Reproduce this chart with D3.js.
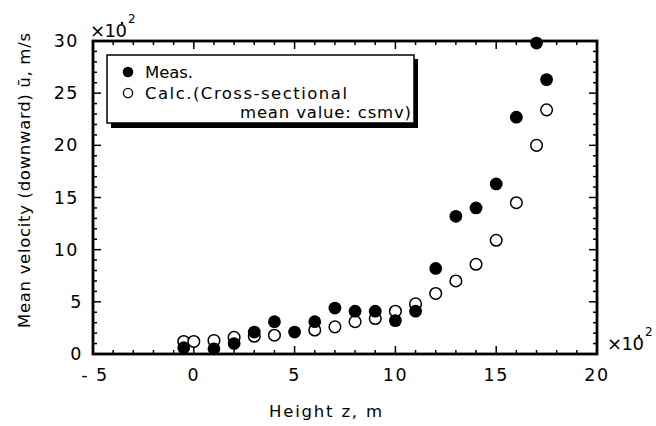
<!DOCTYPE html>
<html>
<head>
<meta charset="utf-8">
<script src="https://cdn.jsdelivr.net/npm/d3@7"></script>
<style>
  html, body { margin: 0; padding: 0; background: #fff; }
  svg { display: block; font-family: "DejaVu Sans", "Noto Sans", sans-serif; }
</style>
</head>
<body>
<svg id="chart" width="656" height="426"></svg>
<script>
// Height z (×10^-2 m) and mean downward velocity (×10^-2 m/s)
const measZ = [-0.5, 1, 2, 3, 4, 5, 6, 7, 8, 9, 10, 11, 12, 13, 14, 15, 16, 17, 17.5];
const measU = [0.6, 0.5, 1.0, 2.1, 3.1, 2.1, 3.1, 4.4, 4.1, 4.1, 3.2, 4.1, 8.2, 13.2, 14.0, 16.3, 22.7, 29.8, 26.3];
const calcZ = [-0.5, 0, 1, 2, 3, 4, 6, 7, 8, 9, 10, 11, 12, 13, 14, 15, 16, 17, 17.5];
const calcU = [1.2, 1.2, 1.3, 1.6, 1.7, 1.8, 2.3, 2.6, 3.1, 3.4, 4.1, 4.8, 5.8, 7.0, 8.6, 10.9, 14.5, 20.0, 23.4];
const xTicks = [-5, 0, 5, 10, 15, 20];
const yTicks = [0, 5, 10, 15, 20, 25, 30];
const legendLabels = ["Meas.", "Calc.(Cross-sectional", "mean value: csmv)"];

const svg = d3.select("#chart");
const L = 93, R = 597, T = 41, B = 354;

const x = d3.scaleLinear().domain([-5, 20]).range([L, R]);
const y = d3.scaleLinear().domain([0, 30]).range([B, T]);

const minorX = d3.range(-5, 21, 1);
const minorY = d3.range(0, 31, 1);

// Inward ticks on all four sides: long at labelled values, short in between
const tickLen = v => (v % 5 === 0 ? 8 : 4);
const g = svg.append("g").attr("stroke", "#000").attr("stroke-width", 1.5);
minorX.forEach(v => {
  g.append("line").attr("x1", x(v)).attr("x2", x(v)).attr("y1", B).attr("y2", B - tickLen(v));
  g.append("line").attr("x1", x(v)).attr("x2", x(v)).attr("y1", T).attr("y2", T + tickLen(v));
});
minorY.forEach(v => {
  g.append("line").attr("y1", y(v)).attr("y2", y(v)).attr("x1", L).attr("x2", L + tickLen(v));
  g.append("line").attr("y1", y(v)).attr("y2", y(v)).attr("x1", R).attr("x2", R - tickLen(v));
});

// Frame
svg.append("rect")
  .attr("x", L).attr("y", T).attr("width", R - L).attr("height", B - T)
  .attr("fill", "none").attr("stroke", "#000").attr("stroke-width", 2.8);

// Tick labels
svg.append("g").selectAll("text").data(xTicks).join("text")
  .attr("x", d => x(d) + (d < 0 ? 2 : 0))
  .attr("y", 381)
  .attr("text-anchor", "middle")
  .attr("font-size", 17.5)
  .attr("letter-spacing", 1.5)
  .text(d => (d < 0 ? "- " + Math.abs(d) : d));

svg.append("g").selectAll("text").data(yTicks).join("text")
  .attr("x", d => (d < 10 ? 83 : 79))
  .attr("y", d => y(d) + 6)
  .attr("text-anchor", "end")
  .attr("font-size", 17.5)
  .attr("letter-spacing", 1.5)
  .text(d => d);

// Exponent labels (×10⁻²) for both axes
function exponent(xPos, yPos) {
  svg.append("text").attr("x", xPos).attr("y", yPos).attr("font-size", 18)
    .attr("textLength", 37).attr("lengthAdjust", "spacing").text("×10");
  svg.append("circle").attr("cx", xPos + 32).attr("cy", yPos - 14).attr("r", 1.2).attr("fill", "#000");
  svg.append("text").attr("x", xPos + 38).attr("y", yPos - 14).attr("font-size", 12).text("2");
}
exponent(90, 37);
exponent(607, 350);

// Axis titles
svg.append("text")
  .attr("x", 269).attr("y", 417)
  .attr("font-size", 16.5)
  .attr("textLength", 113).attr("lengthAdjust", "spacing")
  .text("Height z, m");

svg.append("text")
  .attr("transform", "translate(30,328) rotate(-90)")
  .attr("font-size", 16.5)
  .attr("textLength", 295).attr("lengthAdjust", "spacing")
  .text("Mean velocity (downward) ū, m/s");

// Data: calculated (open) underneath measured (filled)
const calc = calcZ.map((z, i) => ({ z, u: calcU[i] }));
const meas = measZ.map((z, i) => ({ z, u: measU[i] }));

svg.append("g").selectAll("circle").data(calc).join("circle")
  .attr("cx", d => x(d.z)).attr("cy", d => y(d.u)).attr("r", 5.8)
  .attr("fill", "#fff").attr("stroke", "#000").attr("stroke-width", 1.5);

svg.append("g").selectAll("circle").data(meas).join("circle")
  .attr("cx", d => x(d.z)).attr("cy", d => y(d.u)).attr("r", 6.4)
  .attr("fill", "#000");

// Legend with drop shadow
const lg = svg.append("g");
lg.append("rect").attr("x", 111).attr("y", 59).attr("width", 307).attr("height", 69).attr("fill", "#000");
lg.append("rect").attr("x", 107).attr("y", 55).attr("width", 307).attr("height", 68)
  .attr("fill", "#fff").attr("stroke", "#000").attr("stroke-width", 1.5);
lg.append("circle").attr("cx", 128).attr("cy", 72).attr("r", 5.3).attr("fill", "#000");
lg.append("circle").attr("cx", 128).attr("cy", 93).attr("r", 4.6)
  .attr("fill", "#fff").attr("stroke", "#000").attr("stroke-width", 1.3);
lg.append("text").attr("x", 145).attr("y", 78).attr("font-size", 16.5)
  .attr("textLength", 48).attr("lengthAdjust", "spacing").text(legendLabels[0]);
lg.append("text").attr("x", 145).attr("y", 99).attr("font-size", 16.5)
  .attr("textLength", 202).attr("lengthAdjust", "spacing").text(legendLabels[1]);
lg.append("text").attr("x", 240).attr("y", 118).attr("font-size", 16.5)
  .attr("textLength", 171).attr("lengthAdjust", "spacing").text(legendLabels[2]);
</script>
</body>
</html>
